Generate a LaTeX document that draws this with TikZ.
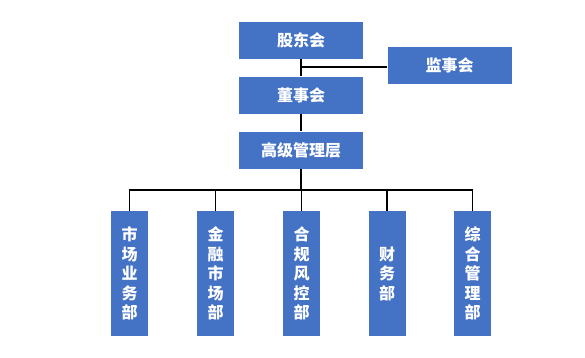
\documentclass[tikz,border=0pt]{standalone}
\usepackage{fontspec}
\newfontfamily\cjk{Noto Sans CJK SC}
\usepackage{tikz}
\usetikzlibrary{positioning}
\definecolor{boxblue}{RGB}{68,114,196}

\begin{document}
\begin{tikzpicture}[
    x=1pt, y=-1pt,
    font=\cjk\bfseries,
    box/.style={rectangle, fill=boxblue, text=white, inner sep=0pt, align=center},
    top/.style={box, minimum width=124pt, minimum height=37pt, font=\cjk\bfseries\fontsize{16}{19}\selectfont},
    dept/.style={box, minimum width=37pt, minimum height=125pt, font=\cjk\bfseries\fontsize{16}{19.5}\selectfont},
    line/.style={draw=black, line width=1.6pt}
]
\useasboundingbox (0,0) rectangle (585,357);

%% ── Top levels ───────────────────────────────────────────────────────────────
\node[top] (gdh)  at (301,   40.5) {股东会};
\node[top] (jsh)  at (449.5, 65)   {监事会};
\node[top] (dsh)  at (301,   95)   {董事会};
\node[top] (gjgl) at (301,   150)  {高级管理层};

%% ── Departments (y=273.5) ────────────────────────────────────────────────────
\node[dept] (scyw) at (129.5, 273.5) {市\\场\\业\\务\\部};
\node[dept] (jrsc) at (215.5, 273.5) {金\\融\\市\\场\\部};
\node[dept] (hgfk) at (301.5, 273.5) {合\\规\\风\\控\\部};
\node[dept] (cw)   at (387,   273.5) {财\\务\\部};
\node[dept] (zhgl) at (472.5, 273.5) {综\\合\\管\\理\\部};

%% ── Junctions ────────────────────────────────────────────────────────────────
\coordinate (jt)  at (301, 67);
\coordinate (bus) at (301, 190);

%% ── Upper links ──────────────────────────────────────────────────────────────
\draw[line] (gdh.south) -- (dsh.north);
\draw[line] (jsh.west |- jt) -- (jt);
\draw[line] (dsh.south) -- (gjgl.north);

%% ── Bus to departments ───────────────────────────────────────────────────────
\draw[line] (gjgl.south) -- (bus);
\draw[line] (scyw.north) |- (bus) -| (zhgl.north);
\draw[line] (jrsc.north) -- (jrsc.north |- bus);
\draw[line] (hgfk.north) -- (hgfk.north |- bus);
\draw[line] (cw.north)   -- (cw.north |- bus);

\end{tikzpicture}
\end{document}
